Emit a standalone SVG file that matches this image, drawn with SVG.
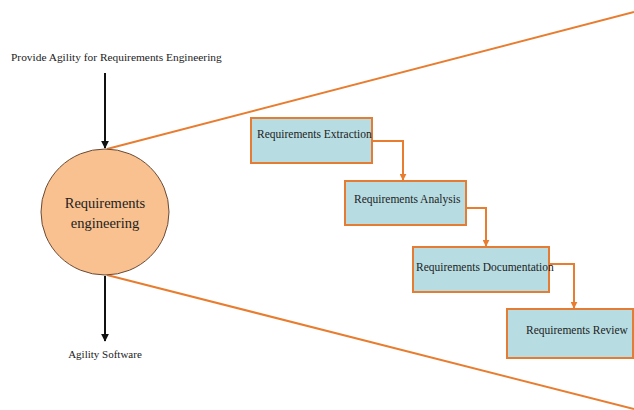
<svg xmlns="http://www.w3.org/2000/svg" width="634" height="410" viewBox="0 0 634 410">
<style>
.t{font-family:"Liberation Serif","Times New Roman",serif;fill:#222;}
.box{fill:#b7dde3;stroke:#e47d33;stroke-width:2;}
.or{stroke:#e87d30;stroke-width:2;fill:none;}
.bk{stroke:#111;stroke-width:2;fill:none;}
</style>
<defs>
<marker id="ab" viewBox="0 0 10 10" refX="9" refY="5" markerWidth="4" markerHeight="4" orient="auto"><path d="M0,0L10,5L0,10z" fill="#111"/></marker>
<marker id="ao" viewBox="0 0 10 10" refX="9" refY="5" markerWidth="3.5" markerHeight="3.5" orient="auto"><path d="M0,0L10,5L0,10z" fill="#e87d30"/></marker>
</defs>
<rect width="634" height="410" fill="#fff"/>
<g id="connectors">
<line class="or" x1="107" y1="149" x2="634" y2="12"/>
<line class="or" x1="107" y1="275" x2="634" y2="409"/>
<line class="bk" x1="105" y1="73" x2="105" y2="148" marker-end="url(#ab)"/>
<line class="bk" x1="105" y1="276" x2="105" y2="341" marker-end="url(#ab)"/>
<polyline class="or" points="372,141 403,141 403,180" marker-end="url(#ao)"/>
<polyline class="or" points="466,208 486,208 486,246" marker-end="url(#ao)"/>
<polyline class="or" points="549,264 574,264 574,308" marker-end="url(#ao)"/>
</g>
<g id="top-label"><text class="t" x="11" y="61" font-size="11.4">Provide Agility for Requirements Engineering</text></g>
<g id="re">
<ellipse cx="105" cy="212" rx="64" ry="63" fill="#f9c18f" stroke="#6a4a35" stroke-width="1"/>
<text class="t" x="105" y="208" font-size="14.5" text-anchor="middle" fill="#3a2a1a">Requirements</text>
<text class="t" x="105" y="228" font-size="14.5" text-anchor="middle" fill="#3a2a1a">engineering</text>
</g>
<g id="bottom-label"><text class="t" x="105" y="358" font-size="11" text-anchor="middle">Agility Software</text></g>
<g id="extraction"><rect class="box" x="251" y="118" width="121" height="45"/><text class="t" x="257" y="138" font-size="11.5">Requirements Extraction</text></g>
<g id="analysis"><rect class="box" x="345" y="181" width="121" height="44"/><text class="t" x="354" y="203" font-size="11.5">Requirements Analysis</text></g>
<g id="documentation"><rect class="box" x="413" y="247" width="136" height="45"/><text class="t" x="416" y="271" font-size="11.5">Requirements Documentation</text></g>
<g id="review"><rect class="box" x="507" y="309" width="126" height="49"/><text class="t" x="526" y="334" font-size="11.5">Requirements Review</text></g>
</svg>
